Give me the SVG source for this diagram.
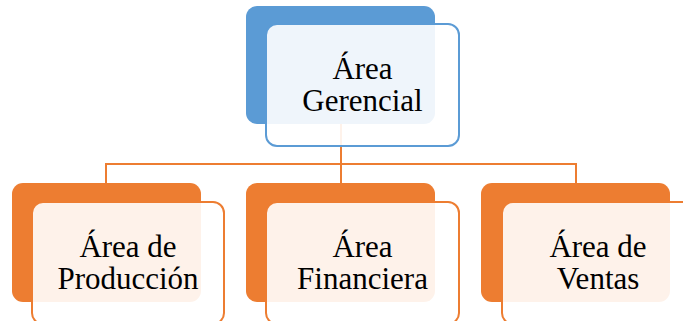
<svg xmlns="http://www.w3.org/2000/svg" width="683" height="321" viewBox="0 0 683 321">
  <style>
    .back-blue { fill: #5B9BD5; }
    .front-blue { fill: #FFFFFF; fill-opacity: 0.9; stroke: #5B9BD5; stroke-width: 2; }
    .back-orange { fill: #ED7D31; }
    .front-orange { fill: #FFFFFF; fill-opacity: 0.9; stroke: #ED7D31; stroke-width: 2; }
    .link { fill: none; stroke: #ED7D31; stroke-width: 2; }
    text { font-size: 31px; fill: #000000; text-anchor: middle; }
  </style>
  <rect width="683" height="321" fill="#FFFFFF"/>

  <!-- org chart connectors -->
  <g id="connectors">
    <path class="link" d="M341 124 V164"/>
    <path class="link" d="M106 164 H576"/>
    <path class="link" d="M106 163 V183"/>
    <path class="link" d="M341 164 V183"/>
    <path class="link" d="M576 163 V183"/>
  </g>

  <g font-family="Liberation Serif, DejaVu Serif, serif">
    <g id="area-gerencial">
      <rect class="back-blue" x="246" y="6" width="189" height="118" rx="11"/>
      <rect class="front-blue" x="266" y="24" width="193" height="122" rx="11"/>
      <text x="362.5" y="79">Área</text>
      <text x="362.5" y="111">Gerencial</text>
    </g>

    <g id="area-produccion">
      <rect class="back-orange" x="12" y="183" width="189" height="119" rx="11"/>
      <rect class="front-orange" x="32" y="202" width="192" height="122" rx="11"/>
      <text x="128" y="257">Área de</text>
      <text x="128" y="289">Producción</text>
    </g>

    <g id="area-financiera">
      <rect class="back-orange" x="246" y="183" width="189" height="119" rx="11"/>
      <rect class="front-orange" x="266" y="202" width="193" height="122" rx="11"/>
      <text x="362.5" y="257">Área</text>
      <text x="362.5" y="289">Financiera</text>
    </g>

    <g id="area-ventas">
      <rect class="back-orange" x="481" y="183" width="189" height="119" rx="11"/>
      <rect class="front-orange" x="502" y="202" width="193" height="122" rx="11"/>
      <text x="598" y="257">Área de</text>
      <text x="598" y="289">Ventas</text>
    </g>
  </g>
</svg>
